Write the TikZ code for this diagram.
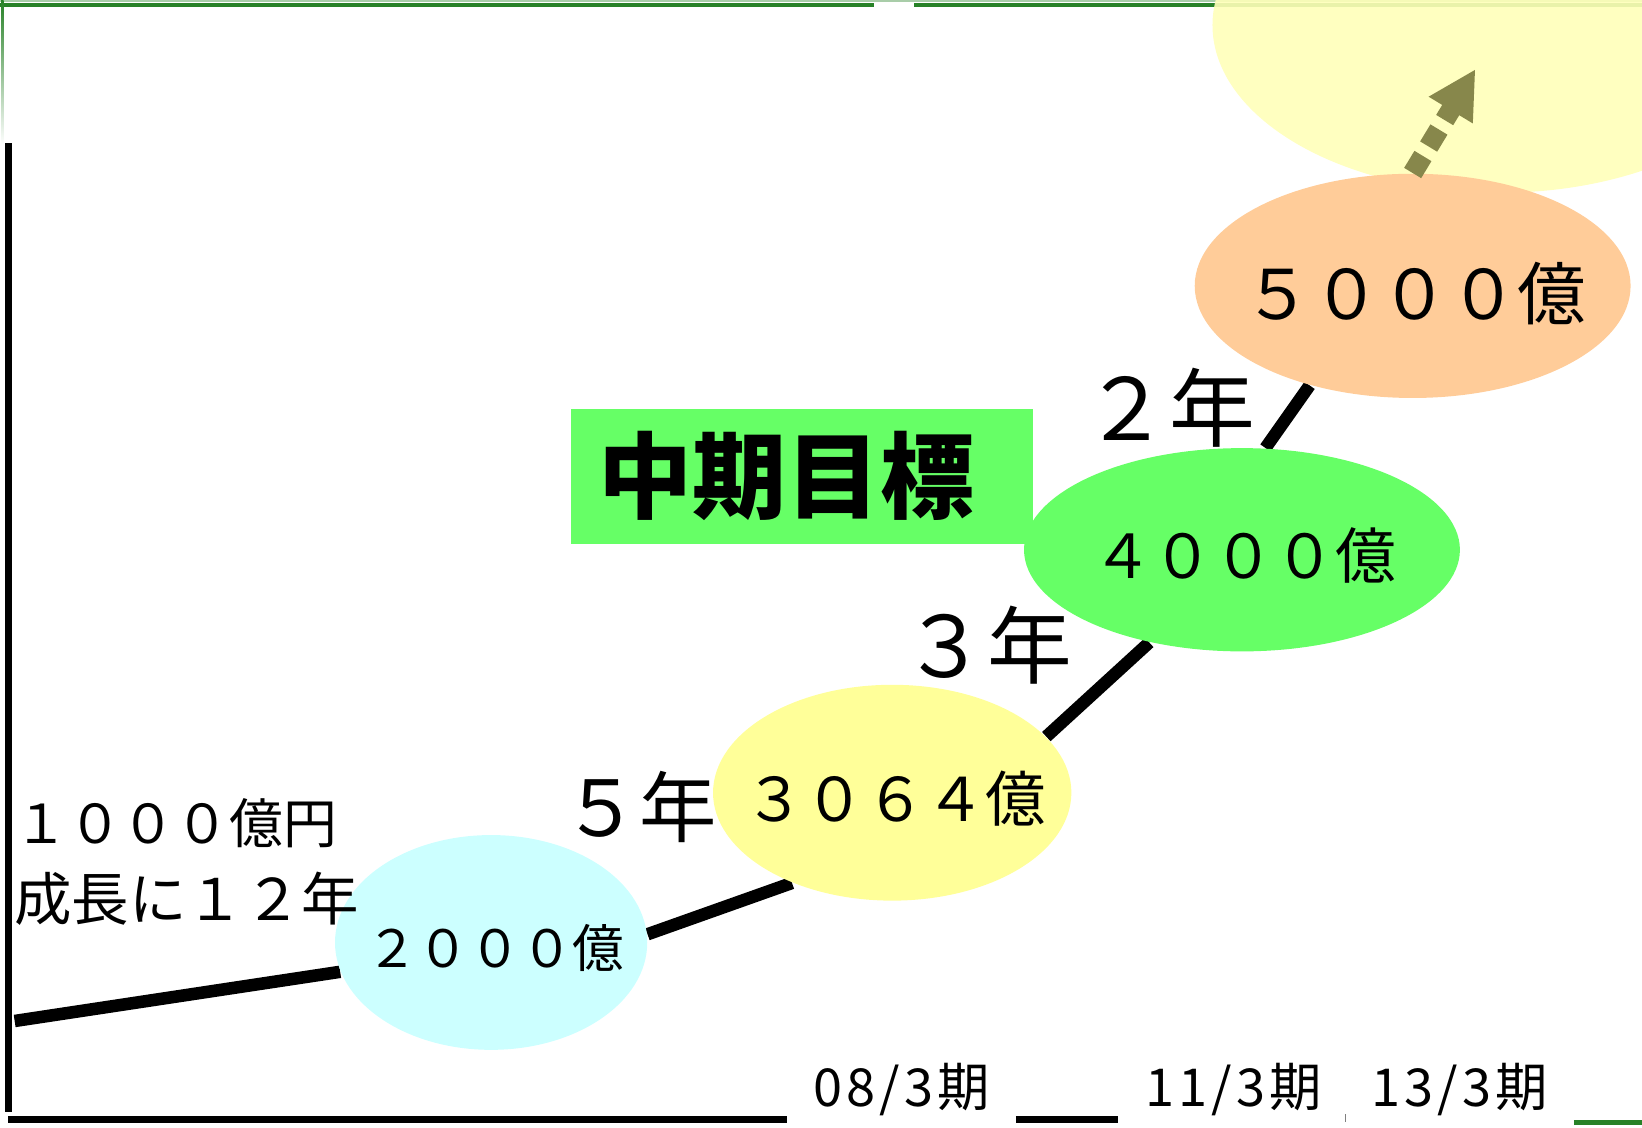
\documentclass[tikz,border=0pt]{standalone}
\usepackage{fontspec}
\newfontfamily\cjk{Noto Sans CJK JP}
\newfontfamily\cjkwide[LetterSpace=8]{Noto Sans CJK JP}
\usetikzlibrary{shapes.geometric,backgrounds,arrows.meta}
\definecolor{mycyan}{RGB}{204,255,255}
\definecolor{myyellow}{RGB}{255,255,153}
\definecolor{mygreen}{RGB}{102,255,102}
\definecolor{myorange}{RGB}{255,204,153}
\definecolor{mypale}{RGB}{255,255,185}
\definecolor{myolive}{RGB}{135,135,75}
\definecolor{myframe}{RGB}{40,130,40}

\begin{document}
\begin{tikzpicture}[x=0.01cm,y=-0.01cm]
    \tikzstyle{every node}=[font=\cjk]
    \tikzstyle{oval}=[ellipse, inner sep=0pt]
    \tikzstyle{growth}=[line width=3.4pt]
    \tikzstyle{trend}=[myolive, line width=5.4pt, dash pattern=on 5.4pt off 3pt, -{Triangle[length=13pt,width=13pt]}]

    \useasboundingbox (0,0) rectangle (1568,1077);

    % Frame
    \draw[myframe!40, line width=0.4pt] (0,1) -- (1568,1);
    \draw[myframe, line width=1pt] (0,5) -- (835,5);
    \draw[myframe, line width=1pt] (873,5) -- (1568,5);
    \shade[top color=myframe, bottom color=white] (1,0) rectangle (3.5,138);

    % Axes
    \draw[line width=1.85pt] (8,137) -- (8,1062);
    \draw[line width=2pt] (8,1069) -- (752,1069);
    \draw[line width=2pt] (970,1069) -- (1068,1069);
    \draw[gray, line width=0.3pt] (1285,1064) -- (1285,1071);
    \draw[myframe, line width=1.5pt] (1503,1072) -- (1568,1072);

    % Next target
    \node[oval, fill=mypale, fill opacity=0.9, minimum width=5.48cm, minimum height=3.2cm] at (1432,24) (Next) {} ;

    % Mid-term goal
    \node[fill=mygreen, minimum width=4.41cm, minimum height=1.29cm, inner xsep=0.26cm, text width=3.89cm, align=left, font=\cjk\bfseries\fontsize{25.5}{25.5}\selectfont] at (766,455) (Mid) {中期目標} ;

    % Sales
    \node[oval, fill=mycyan, minimum width=2.98cm, minimum height=2.05cm] at (469,900) (E2000) {} ;
    \node[oval, fill=myyellow, minimum width=3.42cm, minimum height=2.06cm] at (852,757) (E3064) {} ;
    \node[oval, fill=mygreen, minimum width=4.16cm, minimum height=1.94cm] at (1186,525) (E4000) {} ;
    \node[oval, fill=myorange, minimum width=4.16cm, minimum height=2.14cm] at (1349,273) (E5000) {} ;

    \node[font=\cjk\fontsize{14}{14}\selectfont] at (473,905) (V2000) {２０００億} ;
    \node[font=\cjk\fontsize{16.4}{16.4}\selectfont] at (855,763) (V3064) {３０６４億} ;
    \node[font=\cjk\fontsize{16.5}{16.5}\selectfont] at (1188,530) (V4000) {４０００億} ;
    \node[font=\cjk\fontsize{18.6}{18.6}\selectfont] at (1351,280) (V5000) {５０００億} ;

    % Years
    \node[font=\cjk\fontsize{21}{21}\selectfont] at (611,771) (Y5) {５年} ;
    \node[font=\cjk\fontsize{23}{23}\selectfont] at (943,616) (Y3) {３年} ;
    \node[font=\cjk\fontsize{23.3}{23.3}\selectfont] at (1117,389) (Y2) {２年} ;

    % Note
    \node[anchor=west, align=left, inner sep=0pt, font=\cjk\fontsize{15.6}{21}\selectfont] at (13,823) (Note) {{\fontsize{14.6}{21}\selectfont １０００億円}\\成長に１２年} ;

    % Periods
    \node[font=\cjkwide\fontsize{14.2}{14.2}\selectfont] at (861,1040) (P08) {08/3期} ;
    \node[font=\cjkwide\fontsize{14.2}{14.2}\selectfont] at (1178,1040) (P11) {11/3期} ;
    \node[font=\cjkwide\fontsize{14.2}{14.2}\selectfont] at (1394,1040) (P13) {13/3期} ;

    % Trend arrow
    \coordinate (Goal) at (1409,66);
    \draw[trend] (E5000.north) -- (Goal);

    % Growth line
    \begin{scope}[on background layer]
        \coordinate (Start) at (14,975);
        \draw[growth] (Start) -- (E2000.191);
        \draw[growth] (E2000.3) -- (E3064.222);
        \draw[growth] (E3064.20) -- (E4000.225);
        \draw[growth] (E4000.77) -- (E5000.224);
    \end{scope}

\end{tikzpicture}
\end{document}
